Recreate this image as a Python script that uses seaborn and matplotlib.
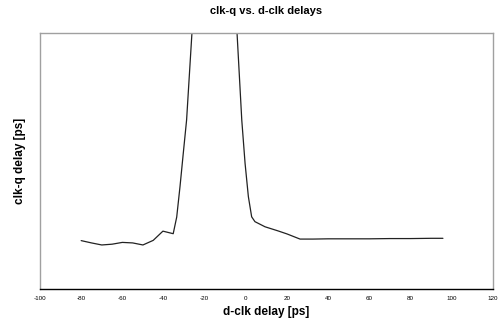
import matplotlib
matplotlib.use("Agg")
import matplotlib.pyplot as plt
import pandas as pd
import seaborn as sns

d_clk = [-80, -75, -70, -65, -60, -55, -50, -45, -40.3, -35.3, -33.6, -32.0,
         -30.4, -28.8, -26.2, -20, -10, -4.3, -2.0, -0.4, 1.2, 2.8, 4.4, 9.3,
         15.6, 20, 26.3, 32.6, 40, 50, 60, 70, 80, 90, 95.7]
clk_q = [78.9, 78.0, 77.2, 77.5, 78.2, 78.0, 77.2, 79.0, 82.6, 81.6, 88.1, 100.0,
         113.1, 126.0, 160.0, 230.0, 230.0, 160.0, 126.0, 109.1, 96.1, 88.2, 86.3, 84.3,
         82.7, 81.5, 79.5, 79.5, 79.6, 79.6, 79.6, 79.7, 79.7, 79.8, 79.8]
x_ticks = list(range(-100, 121, 20))

df = pd.DataFrame({"d-clk delay [ps]": d_clk, "clk-q delay [ps]": clk_q})

sns.set_style("white")
plt.rcParams["font.family"] = ["Liberation Sans", "DejaVu Sans"]
plt.rcParams["text.color"] = "black"
plt.rcParams["axes.labelcolor"] = "black"
plt.rcParams["xtick.color"] = "black"

fig = plt.figure(figsize=(4.98, 3.31), dpi=100)
ax = fig.add_axes([0.0803, 0.1269, 0.9096, 0.7734])

sns.lineplot(data=df, x="d-clk delay [ps]", y="clk-q delay [ps]", sort=False,
             color="#222222", linewidth=0.9, ax=ax)

ax.set_xlim(-100, 120)
ax.set_ylim(60, 160)
ax.set_xticks(x_ticks)
ax.set_xticklabels([str(t) for t in x_ticks], fontsize=4.5)
ax.set_yticks([])
ax.tick_params(axis="x", direction="out", length=3, width=0.8, color="black", pad=2)

for side in ["left", "right", "top"]:
    ax.spines[side].set_color("#a0a0a0")
    ax.spines[side].set_linewidth(1.0)
ax.spines["bottom"].set_color("black")
ax.spines["bottom"].set_linewidth(1.0)

ax.set_title("clk-q vs. d-clk delays", fontsize=8, fontweight="bold", pad=14)
ax.set_xlabel("d-clk delay [ps]", fontsize=8.5, fontweight="bold", labelpad=4)
ax.set_ylabel("clk-q delay [ps]", fontsize=8.5, fontweight="bold", labelpad=10)

fig.savefig("out.png", dpi=100)
